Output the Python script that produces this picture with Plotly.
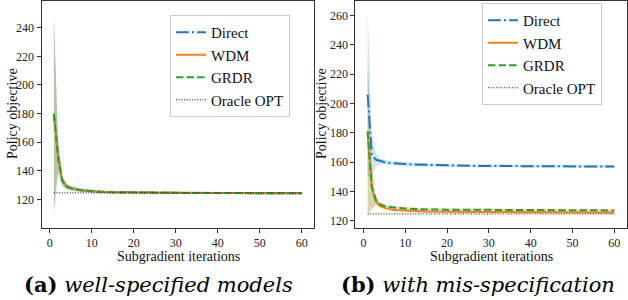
import plotly.graph_objects as go

# ---------------- data ----------------
iters = [1, 2, 3, 4, 5, 6, 7, 8, 10, 12, 15, 20, 25, 30, 40, 50, 60]

# (a) well-specified models
direct_a    = [179, 150, 133, 129, 127.8, 127, 126.5, 126.2, 125.6, 125.3, 125.0, 124.7, 124.6, 124.5, 124.4, 124.3, 124.2]
direct_a_lo = [107, 138, 129, 126.5, 125.8, 125.2, 125, 124.8, 124.4, 124.2, 124, 123.8, 123.7, 123.6, 123.6, 123.6, 123.6]
direct_a_hi = [251, 162, 137, 131.5, 129.8, 128.8, 128, 127.6, 126.8, 126.4, 126, 125.6, 125.5, 125.4, 125.2, 125, 124.8]
wdm_a       = [179, 150, 133, 129, 127.8, 127, 126.5, 126.2, 125.6, 125.3, 125.0, 124.7, 124.6, 124.5, 124.4, 124.3, 124.2]
wdm_a_lo    = [113, 140, 130, 127.5, 126.5, 126, 125.6, 125.4, 125, 124.8, 124.6, 124.3, 124.2, 124.1, 124, 124, 123.9]
wdm_a_hi    = [245, 160, 136, 130.5, 129, 128, 127.4, 127, 126.2, 125.8, 125.4, 125.1, 125, 124.9, 124.8, 124.6, 124.5]
grdr_a      = [180, 150, 133, 129, 127.8, 127, 126.5, 126.2, 125.6, 125.3, 125.0, 124.7, 124.6, 124.5, 124.4, 124.3, 124.2]
grdr_a_lo   = [116, 139, 130, 127.3, 126.4, 125.9, 125.5, 125.3, 124.9, 124.7, 124.5, 124.2, 124.1, 124, 124, 123.9, 123.8]
grdr_a_hi   = [247, 161, 136, 130.6, 129.1, 128.1, 127.5, 127.1, 126.3, 125.9, 125.5, 125.2, 125.1, 125, 124.8, 124.7, 124.6]
oracle_x = [1, 60]
oracle_a = [124.5, 124.5]

# (b) with mis-specification
direct_b    = [206, 165, 161.5, 160.5, 160, 159.5, 159.2, 159, 158.6, 158.3, 158, 157.6, 157.4, 157.3, 157.1, 157, 156.9]
direct_b_lo = [150, 150, 157, 158.5, 158.3, 158, 157.8, 157.6, 157.3, 157, 156.8, 156.5, 156.3, 156.2, 156.1, 156, 155.9]
direct_b_hi = [263, 180, 166, 162.5, 161.7, 161, 160.6, 160.4, 159.9, 159.6, 159.2, 158.7, 158.5, 158.4, 158.2, 158, 157.9]
wdm_b       = [180, 142, 133, 130, 128.7, 128, 127.5, 127.2, 126.8, 126.5, 126.3, 126.1, 126, 125.9, 125.8, 125.7, 125.6]
wdm_b_lo    = [122, 128, 130, 128.5, 127.5, 127, 126.6, 126.4, 126, 125.8, 125.6, 125.4, 125.3, 125.2, 125.1, 125, 124.9]
wdm_b_hi    = [225, 156, 136, 131.5, 129.9, 129, 128.4, 128, 127.6, 127.2, 127, 126.8, 126.7, 126.6, 126.5, 126.4, 126.3]
grdr_b      = [181, 143, 134, 131, 130, 129.4, 129, 128.7, 128.3, 128, 127.7, 127.5, 127.4, 127.3, 127.2, 127.1, 127]
grdr_b_lo   = [125, 128, 131, 129.5, 128.8, 128.3, 128, 127.8, 127.4, 127.2, 126.9, 126.7, 126.6, 126.5, 126.4, 126.3, 126.2]
grdr_b_hi   = [235, 158, 137, 132.5, 131.2, 130.5, 130, 129.6, 129.2, 128.8, 128.5, 128.3, 128.2, 128.1, 128, 127.9, 127.8]
oracle_b = [124.6, 124.6]

x_ticks = [0, 10, 20, 30, 40, 50, 60]
y_ticks_a = [120, 140, 160, 180, 200, 220, 240]
y_ticks_b = [120, 140, 160, 180, 200, 220, 240, 260]

captions = ["<b>(a)</b> <i>well-specified models</i>", "<b>(b)</b> <i>with mis-specification</i>"]
names = ["Direct", "WDM", "GRDR", "Oracle OPT"]

# ---------------- styles ----------------
BLUE, ORANGE, GREEN = "#1f77b4", "#ff7f0e", "#2ca02c"
FILL = {BLUE: "rgba(31,119,180,0.2)", ORANGE: "rgba(255,127,14,0.2)", GREEN: "rgba(44,160,44,0.2)"}
SERIF = "Liberation Serif, Times New Roman, serif"
CAPFONT = "DejaVu Serif, serif"

fig = go.Figure()

def add_panel(xa, ya, legend, series, oracle):
    for mean, lo, hi, color, dash, name in series:
        fig.add_trace(go.Scatter(
            x=iters + iters[::-1], y=hi + lo[::-1], fill="toself",
            fillcolor=FILL[color], line=dict(width=0), mode="lines",
            hoverinfo="skip", showlegend=False, xaxis=xa, yaxis=ya))
    for mean, lo, hi, color, dash, name in series:
        fig.add_trace(go.Scatter(
            x=iters, y=mean, mode="lines", name=name,
            line=dict(color=color, width=2, dash=dash),
            xaxis=xa, yaxis=ya, legend=legend))
    fig.add_trace(go.Scatter(
        x=oracle_x, y=oracle, mode="lines", name=names[3],
        line=dict(color="#111111", width=1, dash="1px,1.65px"),
        xaxis=xa, yaxis=ya, legend=legend))

DASHDOT = "12.8px,3.2px,2px,3.2px"
DASHED = "7.4px,3.2px"

add_panel("x", "y", "legend", [
    (direct_a, direct_a_lo, direct_a_hi, BLUE, DASHDOT, names[0]),
    (wdm_a, wdm_a_lo, wdm_a_hi, ORANGE, "solid", names[1]),
    (grdr_a, grdr_a_lo, grdr_a_hi, GREEN, DASHED, names[2]),
], oracle_a)

add_panel("x2", "y2", "legend2", [
    (direct_b, direct_b_lo, direct_b_hi, BLUE, DASHDOT, names[0]),
    (wdm_b, wdm_b_lo, wdm_b_hi, ORANGE, "solid", names[1]),
    (grdr_b, grdr_b_lo, grdr_b_hi, GREEN, DASHED, names[2]),
], oracle_b)

W, H = 628, 300
axis_common = dict(showline=True, linecolor="#333333", linewidth=1, mirror=True,
                   ticks="outside", ticklen=4, tickcolor="#333333", tickwidth=1,
                   showgrid=False, zeroline=False,
                   tickfont=dict(family=SERIF, size=12, color="#222222"))

ydom = [1 - 228 / H, 1 - 0.6 / H]

legend_common = dict(font=dict(family=SERIF, size=15, color="#111111"),
                     bgcolor="rgba(255,255,255,0.9)", bordercolor="#cccccc", borderwidth=1,
                     xanchor="left", yanchor="top", xref="paper", yref="paper",
                     itemwidth=30, tracegroupgap=0)

fig.update_layout(
    width=W, height=H, margin=dict(l=0, r=0, t=0, b=0),
    paper_bgcolor="white", plot_bgcolor="white",
    font=dict(family=SERIF),
    xaxis=dict(domain=[41.5 / W, 314.1 / W], range=[-1.95, 62.95], tickvals=x_ticks, anchor="y", **axis_common),
    yaxis=dict(domain=ydom, range=[99.93, 258.95], tickvals=y_ticks_a, anchor="x", **axis_common),
    xaxis2=dict(domain=[355.3 / W, 626.6 / W], range=[-1.95, 62.95], tickvals=x_ticks, anchor="y2", **axis_common),
    yaxis2=dict(domain=ydom, range=[115.0, 270.1], tickvals=y_ticks_b, anchor="x2", **axis_common),
    legend=dict(x=170 / W, y=1 - 15 / H, **legend_common),
    legend2=dict(x=482 / W, y=1 - 3 / H, **legend_common),
    showlegend=True,
)

label_font = dict(family=SERIF, size=14, color="#111111")
ann = []
ann.append(dict(x=12 / W, y=1 - 114 / H, xref="paper", yref="paper", text="Policy objective",
                textangle=-90, showarrow=False, font=label_font, xanchor="center", yanchor="middle"))
ann.append(dict(x=321 / W, y=1 - 114 / H, xref="paper", yref="paper", text="Policy objective",
                textangle=-90, showarrow=False, font=label_font, xanchor="center", yanchor="middle"))
ann.append(dict(x=178 / W, y=1 - 256.5 / H, xref="paper", yref="paper", text="Subgradient iterations",
                showarrow=False, font=label_font, xanchor="center", yanchor="middle"))
ann.append(dict(x=491 / W, y=1 - 256.5 / H, xref="paper", yref="paper", text="Subgradient iterations",
                showarrow=False, font=label_font, xanchor="center", yanchor="middle"))
cap_font = dict(family=CAPFONT, size=21, color="#000000")
ann.append(dict(x=158 / W, y=1 - 284 / H, xref="paper", yref="paper", text=captions[0],
                showarrow=False, font=cap_font, xanchor="center", yanchor="middle"))
ann.append(dict(x=478 / W, y=1 - 284 / H, xref="paper", yref="paper", text=captions[1],
                showarrow=False, font=cap_font, xanchor="center", yanchor="middle"))
fig.update_layout(annotations=ann)

fig.write_html("out.html", config={"displayModeBar": False},
               post_script="document.body.style.margin='0';document.body.style.padding='0';")
